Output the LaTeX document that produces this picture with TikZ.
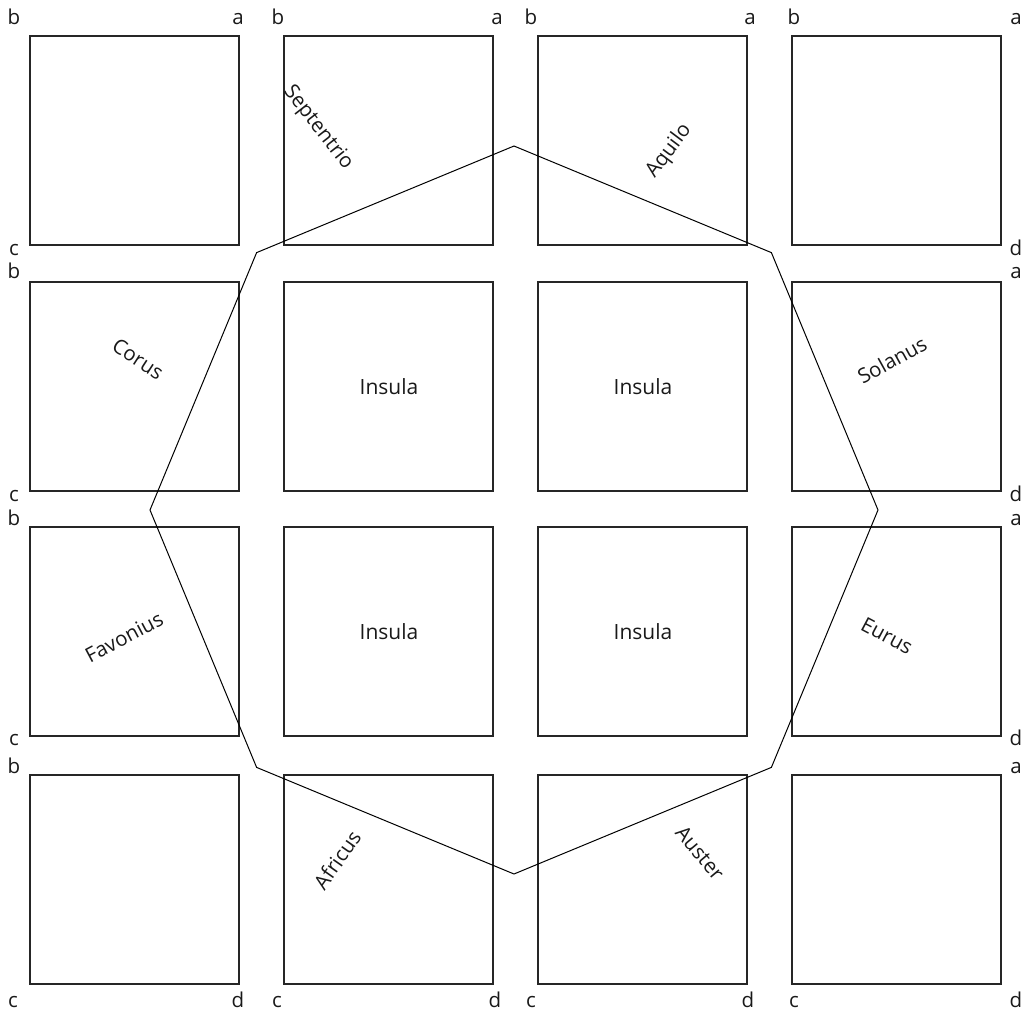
\documentclass[tikz,border=0pt]{standalone}
\usepackage{fontspec}
\setmainfont{Open Sans}
\usetikzlibrary{positioning}
\tikzset{
  field/.style={draw=black!85, line width=1.3pt},
  octline/.style={draw=black, line width=1pt, line join=miter},
  cornerlabel/.style={anchor=base, inner sep=0pt, font=\fontsize{20.5}{24}\selectfont, text=black!90},
  windlabel/.style={inner sep=0pt, font=\fontsize{20.5}{24}\selectfont, text=black!90},
  islandlabel/.style={inner sep=0pt, font=\fontsize{21}{24}\selectfont, text=black!90}
}

\begin{document}
\begin{tikzpicture}[x=1pt, y=-1pt]
\useasboundingbox (0,0) rectangle (1029,1010);
% the sixteen fields
\foreach \x in {30,284,538,792}
  \foreach \y in {36,282,527,775}
    \draw[field] (\x,\y) rectangle ++(209,209);
% central islands
\foreach \x/\y [count=\i] in {389/386.5,643/386.5,389/631.5,643/631.5}
  \node[islandlabel] (insula\i) at (\x,\y) {Insula};
% the octagon of the winds
\coordinate (ctr) at (514,510);
\draw[octline, shift={(ctr)}] (0:364) \foreach \a in {45,90,...,315} { -- (\a:364) } -- cycle;
% wind names
\foreach \t/\x/\y/\r in {Septentrio/318/128/-52, Aquilo/669/151/53, Corus/138/359/-33,
    Solanus/892/360/29, Favonius/124/637/28, Eurus/887/636/-28,
    Africus/337/860/55, Auster/700/853/-50}
  \node[windlabel, rotate=\r] (\t) at (\x,\y) {\t};
% corner letters, top and bottom rows
\foreach \t/\x [count=\i] in {b/14,a/238,b/278,a/497,b/531,a/750,b/794,a/1016}
  \node[cornerlabel] (top\i) at (\x,24) {\t};
\foreach \t/\x [count=\i] in {c/13,d/238,c/277,d/495,c/531,d/748,c/794,d/1016}
  \node[cornerlabel] (bot\i) at (\x,1007) {\t};
% corner letters, left and right columns
\foreach \t/\y [count=\i] in {c/255,b/278,c/501,b/525,c/745,b/773}
  \node[cornerlabel] (left\i) at (14,\y) {\t};
\foreach \t/\y [count=\i] in {d/255,a/278,d/501,a/525,d/745,a/773}
  \node[cornerlabel] (right\i) at (1016,\y) {\t};
\end{tikzpicture}
\end{document}
